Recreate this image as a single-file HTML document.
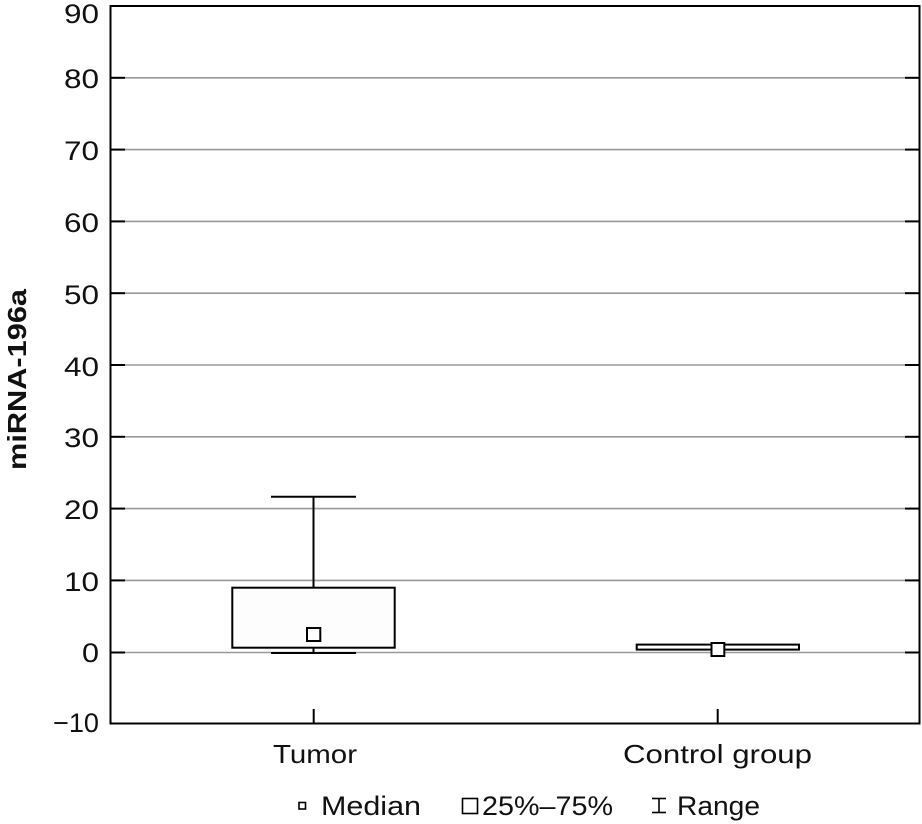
<!DOCTYPE html>
<html>
<head>
<meta charset="utf-8">
<style>
  html,body{margin:0;padding:0;background:#fff;}
  svg{display:block;}
  text{font-family:"Liberation Sans",sans-serif;fill:#111;}
</style>
</head>
<body>
<svg width="922" height="824" viewBox="0 0 922 824" xmlns="http://www.w3.org/2000/svg">
  <rect x="0" y="0" width="922" height="824" fill="#fff"/>
  <!-- gridlines -->
  <g stroke="#999" stroke-width="1.6">
    <line x1="111" y1="77.8" x2="919" y2="77.8"/>
    <line x1="111" y1="149.6" x2="919" y2="149.6"/>
    <line x1="111" y1="221.4" x2="919" y2="221.4"/>
    <line x1="111" y1="293.2" x2="919" y2="293.2"/>
    <line x1="111" y1="365" x2="919" y2="365"/>
    <line x1="111" y1="436.8" x2="919" y2="436.8"/>
    <line x1="111" y1="508.6" x2="919" y2="508.6"/>
    <line x1="111" y1="580.4" x2="919" y2="580.4"/>
    <line x1="111" y1="652.5" x2="919" y2="652.5"/>
  </g>
  <!-- tick stubs -->
  <g stroke="#000" stroke-width="2">
    <line x1="111" y1="77.8" x2="125" y2="77.8"/>
    <line x1="111" y1="149.6" x2="125" y2="149.6"/>
    <line x1="111" y1="221.4" x2="125" y2="221.4"/>
    <line x1="111" y1="293.2" x2="125" y2="293.2"/>
    <line x1="111" y1="365" x2="125" y2="365"/>
    <line x1="111" y1="436.8" x2="125" y2="436.8"/>
    <line x1="111" y1="508.6" x2="125" y2="508.6"/>
    <line x1="111" y1="580.4" x2="125" y2="580.4"/>
    <line x1="111" y1="652.5" x2="125" y2="652.5"/>
    <line x1="905" y1="77.8" x2="919" y2="77.8"/>
    <line x1="905" y1="149.6" x2="919" y2="149.6"/>
    <line x1="905" y1="221.4" x2="919" y2="221.4"/>
    <line x1="905" y1="293.2" x2="919" y2="293.2"/>
    <line x1="905" y1="365" x2="919" y2="365"/>
    <line x1="905" y1="436.8" x2="919" y2="436.8"/>
    <line x1="905" y1="508.6" x2="919" y2="508.6"/>
    <line x1="905" y1="580.4" x2="919" y2="580.4"/>
    <line x1="905" y1="652.5" x2="919" y2="652.5"/>
    <line x1="313.7" y1="709" x2="313.7" y2="724"/>
    <line x1="717.7" y1="709" x2="717.7" y2="724"/>
  </g>
  <!-- frame -->
  <rect x="110.5" y="6" width="809" height="717.5" fill="none" stroke="#000" stroke-width="2"/>

  <!-- Tumor box -->
  <g stroke="#000" stroke-width="2" fill="none">
    <line x1="313.5" y1="496.7" x2="313.5" y2="587.7"/>
    <line x1="271" y1="496.7" x2="356" y2="496.7"/>
    <line x1="313.5" y1="647.7" x2="313.5" y2="653"/>
    <line x1="271" y1="653" x2="356" y2="653"/>
    <rect x="232.3" y="587.7" width="162.4" height="60" fill="#fdfdfd"/>
    <rect x="307" y="628" width="13.3" height="13" fill="#fff"/>
  </g>
  <!-- Control box -->
  <g stroke="#000" stroke-width="2" fill="none">
    <rect x="636.7" y="644.6" width="162.3" height="5" fill="#fff"/>
    <rect x="711.5" y="643" width="12.8" height="13" fill="#fff"/>
  </g>

  <!-- y tick labels -->
  <g font-size="27" text-anchor="end">
    <text x="99" y="23" textLength="35" lengthAdjust="spacingAndGlyphs">90</text>
    <text x="99" y="88" textLength="35" lengthAdjust="spacingAndGlyphs">80</text>
    <text x="99" y="160" textLength="35" lengthAdjust="spacingAndGlyphs">70</text>
    <text x="99" y="232" textLength="35" lengthAdjust="spacingAndGlyphs">60</text>
    <text x="99" y="304" textLength="35" lengthAdjust="spacingAndGlyphs">50</text>
    <text x="99" y="376" textLength="35" lengthAdjust="spacingAndGlyphs">40</text>
    <text x="99" y="447" textLength="35" lengthAdjust="spacingAndGlyphs">30</text>
    <text x="99" y="519" textLength="35" lengthAdjust="spacingAndGlyphs">20</text>
    <text x="99" y="591" textLength="35" lengthAdjust="spacingAndGlyphs">10</text>
    <text x="99" y="662" textLength="17" lengthAdjust="spacingAndGlyphs">0</text>
    <text x="99" y="732" textLength="46" lengthAdjust="spacingAndGlyphs">−10</text>
  </g>

  <!-- y axis label -->
  <text transform="translate(26,470) rotate(-90)" font-size="26" font-weight="bold" textLength="181" lengthAdjust="spacingAndGlyphs">miRNA-196a</text>

  <!-- x category labels -->
  <text x="273" y="763" font-size="26" textLength="84" lengthAdjust="spacingAndGlyphs">Tumor</text>
  <text x="623" y="763" font-size="26" textLength="189" lengthAdjust="spacingAndGlyphs">Control group</text>

  <!-- legend -->
  <rect x="299" y="802.5" width="6.5" height="6.5" fill="#fff" stroke="#000" stroke-width="1.6"/>
  <text x="321" y="815" font-size="27" textLength="100" lengthAdjust="spacingAndGlyphs">Median</text>
  <rect x="462.5" y="798.5" width="15" height="15" fill="#fff" stroke="#000" stroke-width="1.6"/>
  <text x="482" y="815" font-size="27" textLength="131" lengthAdjust="spacingAndGlyphs">25%–75%</text>
  <g stroke="#000" stroke-width="1.6">
    <line x1="652" y1="798.5" x2="666" y2="798.5"/>
    <line x1="659" y1="798.5" x2="659" y2="812.5"/>
    <line x1="652" y1="812.5" x2="666" y2="812.5"/>
  </g>
  <text x="677" y="815" font-size="27" textLength="83" lengthAdjust="spacingAndGlyphs">Range</text>
</svg>
</body>
</html>
